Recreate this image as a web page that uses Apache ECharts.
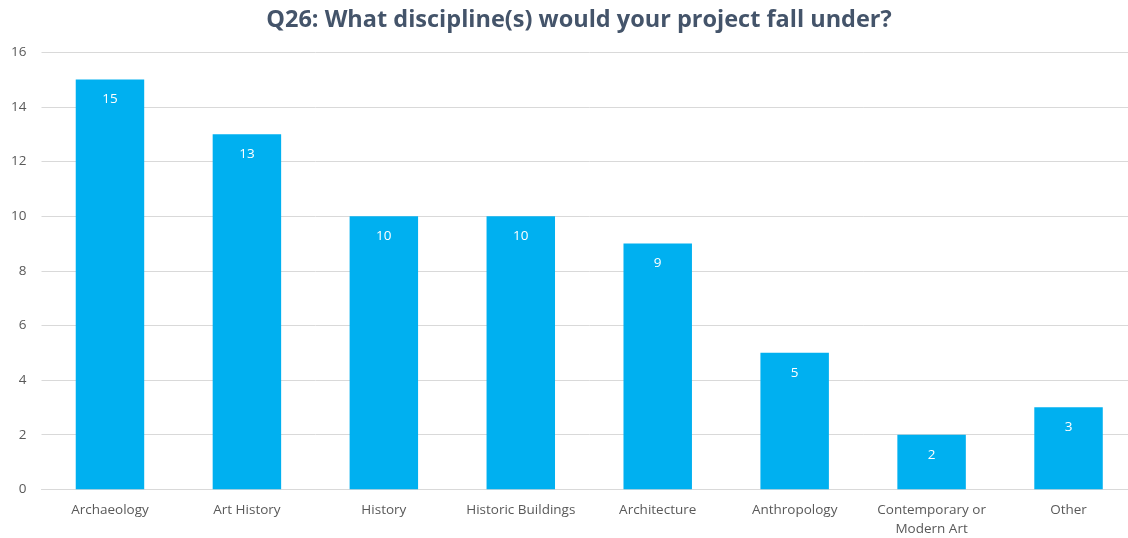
<!DOCTYPE html>
<html>
<head>
<meta charset="utf-8">
<script src="https://cdn.jsdelivr.net/npm/echarts@6/dist/echarts.min.js"></script>
<style>
  html, body { margin: 0; padding: 0; background: #ffffff; overflow: hidden; }
  #chart { width: 1137px; height: 538px; }
</style>
</head>
<body>
<div id="chart"></div>
<script>
// Survey responses per discipline
const categories = ['Archaeology', 'Art History', 'History', 'Historic Buildings', 'Architecture', 'Anthropology', 'Contemporary or\nModern Art', 'Other'];
const counts = [15, 13, 10, 10, 9, 5, 2, 3];
const titleText = 'Q26: What discipline(s) would your project fall under?';

const chart = echarts.init(document.getElementById('chart'));
chart.setOption({
  backgroundColor: '#ffffff',
  animation: false,
  title: {
    text: titleText,
    left: 574,
    textAlign: 'center',
    top: 3,
    textStyle: { fontFamily: 'Open Sans', fontSize: 23.5, fontWeight: 'bold', color: '#44546a' }
  },
  grid: { left: 41.5, right: 0, top: 52.3, bottom: 48.7, containLabel: false, outerBoundsMode: 'none' },
  xAxis: {
    type: 'category',
    data: categories,
    axisLine: { show: true, lineStyle: { color: '#d9d9d9', width: 1 } },
    axisTick: { show: false },
    axisLabel: { color: '#595959', fontFamily: 'Open Sans', fontSize: 13.5, margin: 11, lineHeight: 19, interval: 0 }
  },
  yAxis: {
    type: 'value',
    min: 0,
    max: 16,
    interval: 2,
    axisLine: { show: false },
    axisTick: { show: false },
    splitLine: { lineStyle: { color: '#d9d9d9', width: 1 } },
    axisLabel: { color: '#595959', fontFamily: 'Open Sans', fontSize: 13.5, margin: 15 }
  },
  series: [{
    type: 'bar',
    data: counts,
    barWidth: '50%',
    itemStyle: { color: '#00b0f0' },
    label: {
      show: true,
      position: 'insideTop',
      distance: 13,
      color: '#ffffff',
      fontFamily: 'Open Sans',
      fontSize: 13.5
    }
  }]
});
</script>
</body>
</html>
